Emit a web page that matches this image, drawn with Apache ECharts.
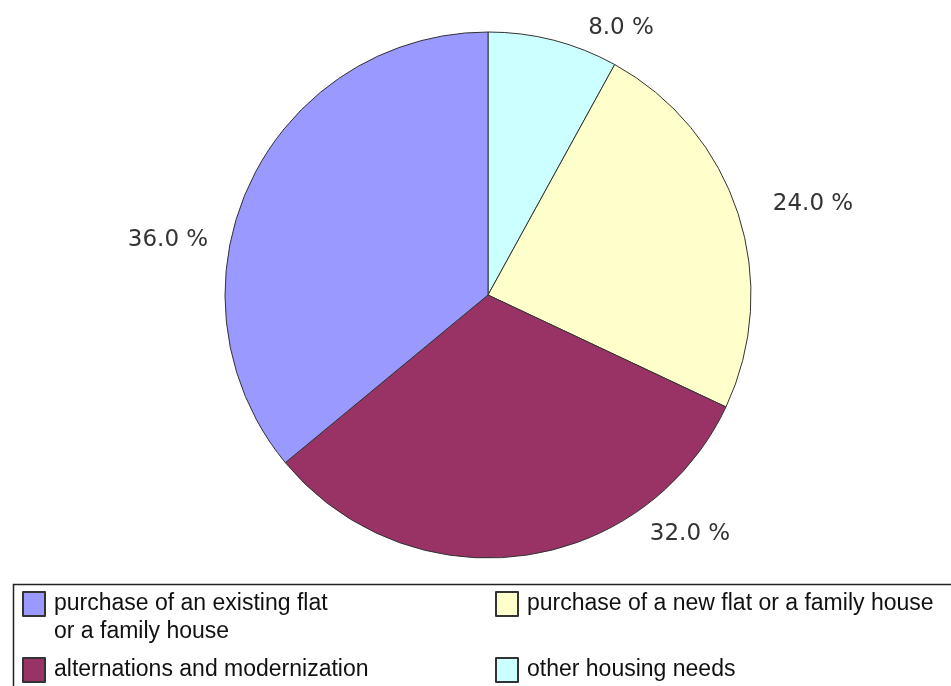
<!DOCTYPE html>
<html>
<head>
<meta charset="utf-8">
<script src="https://cdn.jsdelivr.net/npm/echarts@6/dist/echarts.min.js"></script>
<style>
html,body{margin:0;padding:0;background:#fff;}
#chart{width:951px;height:686px;}
</style>
</head>
<body>
<div id="chart"></div>
<script>
// ---- data ----
const categories = [
  'other housing needs',
  'purchase of a new flat or a family house',
  'alternations and modernization',
  'purchase of an existing flat\nor a family house'
];
const values = [8.0, 24.0, 32.0, 36.0];
const colors = ['#ccffff', '#ffffcc', '#993366', '#9999ff'];
// label anchor positions (style)
const labelPos = [[621, 28], [813, 204], [690, 534], [168, 240]];

const chart = echarts.init(document.getElementById('chart'));
const legendFont = {fontFamily: 'Liberation Sans', fontSize: 23, color: '#111', lineHeight: 28, padding: [0, 0, 0, 4]};
function mkLegend(name, left, top, lead) {
  return {
    show: true,
    orient: 'vertical',
    left: left, top: top, padding: 0,
    itemWidth: 22, itemHeight: 24,
    icon: 'rect',
    selectedMode: false,
    textStyle: legendFont,
    formatter: n => (lead ? ' \n' : '') + n,
    data: [name]
  };
}
chart.setOption({
  animation: false,
  backgroundColor: '#fff',
  color: colors,
  graphic: [{
    type: 'rect', left: 11, top: 582, silent: true,
    shape: {width: 1000, height: 200},
    style: {fill: 'none', stroke: '#222', lineWidth: 1.5}
  }],
  legend: [
    mkLegend(categories[3], 22, 562, true),
    mkLegend(categories[2], 22, 656, false),
    mkLegend(categories[1], 495, 590, false),
    mkLegend(categories[0], 495, 656, false)
  ],
  series: [{
    type: 'pie',
    center: [488, 295],
    radius: 263,
    startAngle: 90,
    clockwise: true,
    avoidLabelOverlap: false,
    itemStyle: {borderColor: '#333', borderWidth: 1},
    label: {
      show: true, position: 'outside',
      fontFamily: 'DejaVu Sans', fontSize: 23, color: '#333',
      formatter: p => p.value.toFixed(1) + ' %'
    },
    labelLine: {show: false},
    labelLayout: function (params) {
      const p = labelPos[params.dataIndex];
      return {x: p[0], y: p[1], align: 'center', verticalAlign: 'middle'};
    },
    emphasis: {disabled: true},
    data: categories.map((c, i) => ({name: c, value: values[i]}))
  }]
});
</script>
</body>
</html>
